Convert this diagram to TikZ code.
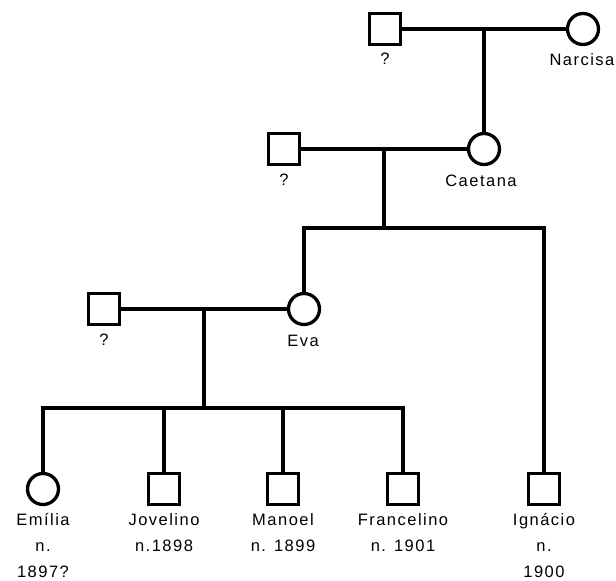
\documentclass[tikz,border=0pt]{standalone}
\usepackage{fontspec}
\setmainfont{Liberation Sans}[LetterSpace=9]
\begin{document}
\begin{tikzpicture}[x=1pt,y=-1pt,
  line join=miter,
  male/.style={draw,line width=3.3pt,rectangle,minimum size=31pt,inner sep=0pt},
  female/.style={draw,line width=3.3pt,circle,minimum size=31pt,inner sep=0pt},
  lab/.style={font=\fontsize{16.5}{26}\selectfont,align=center,inner sep=0pt},
  rel/.style={line width=3.3pt},
  desc/.style={line width=4.2pt}]
\useasboundingbox (0,0) rectangle (616,581);
% generation 1
\node[male] (q1) at (385,29) {};
\node[female] (narcisa) at (583,29) {};
\node[lab] (lq1) at (385,59) {?};
\node[lab] (lnarcisa) at (582,60) {Narcisa};
\coordinate (m1) at (484,29);
\draw[rel] (q1.east) -- (narcisa.west);
% generation 2
\node[male] (q2) at (284,149) {};
\node[female] (caetana) at (484,149) {};
\node[lab] (lq2) at (284,180) {?};
\node[lab] (lcaetana) at (481,181) {Caetana};
\draw[rel] (m1) -- (caetana.north);
\draw[rel] (q2.east) -- (caetana.west);
\coordinate (m2) at (384,149);
\coordinate (s2) at (384,228);
\coordinate (s2L) at (304,228);
\coordinate (s2R) at (544,228);
\draw[desc] (m2) -- (s2);
% generation 3
\node[male] (q3) at (104,309) {};
\node[female] (eva) at (304,309) {};
\node[lab] (lq3) at (104,340) {?};
\node[lab] (leva) at (303,341) {Eva};
\draw[rel] (q3.east) -- (eva.west);
\coordinate (m3) at (204,309);
\coordinate (s3) at (204,408);
\coordinate (s3L) at (43,408);
\coordinate (s3R) at (403,408);
\draw[desc] (m3) -- (s3);
% children
\node[female] (emilia) at (43,489) {};
\node[male] (jovelino) at (164,489) {};
\node[male] (manoel) at (283,489) {};
\node[male] (francelino) at (403,489) {};
\node[male] (ignacio) at (544,489) {};
\draw[rel] (eva.north) -- (s2L) -- (s2R) -- (ignacio.north);
\draw[rel] (emilia.north) -- (s3L) -- (s3R) -- (francelino.north);
\draw[rel] (jovelino.north) -- (jovelino.north |- s3);
\draw[rel] (manoel.north) -- (manoel.north |- s3);
\node[lab,anchor=north] (lemilia) at (43,513) {Emília\\n.\\1897?};
\node[lab,anchor=north] (ljovelino) at (164,513) {Jovelino\\n.1898};
\node[lab,anchor=north] (lmanoel) at (283,513) {Manoel\\n. 1899};
\node[lab,anchor=north] (lfrancelino) at (403,513) {Francelino\\n. 1901};
\node[lab,anchor=north] (lignacio) at (544,513) {Ignácio\\n.\\1900};
\end{tikzpicture}
\end{document}
